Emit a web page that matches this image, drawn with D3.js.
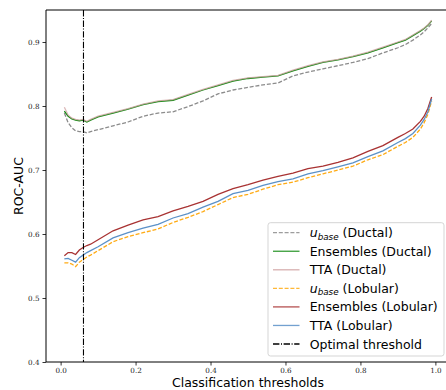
<!DOCTYPE html>
<html>
<head>
<meta charset="utf-8">
<script src="https://cdn.jsdelivr.net/npm/d3@7"></script>
<style>
html,body{margin:0;padding:0;background:#fff;}
svg{display:block;}
</style>
</head>
<body>
<svg id="chart" width="446" height="390"></svg>
<script>
const thresholds = [0.01,0.02,0.03,0.04,0.05,0.06,0.07,0.08,0.10,0.14,0.18,0.22,0.26,0.30,0.34,0.38,0.42,0.46,0.50,0.54,0.58,0.62,0.66,0.70,0.74,0.78,0.82,0.86,0.90,0.92,0.94,0.96,0.97,0.98,0.99];

const ubaseDuctal = [0.789,0.774,0.766,0.761,0.760,0.760,0.758,0.760,0.763,0.769,0.775,0.784,0.789,0.791,0.799,0.808,0.819,0.825,0.829,0.833,0.836,0.847,0.853,0.858,0.863,0.868,0.874,0.883,0.891,0.896,0.903,0.911,0.916,0.922,0.929];
const ensDuctal = [0.792,0.784,0.780,0.778,0.777,0.778,0.775,0.778,0.783,0.789,0.795,0.802,0.807,0.809,0.817,0.825,0.832,0.839,0.843,0.845,0.847,0.855,0.862,0.868,0.872,0.877,0.883,0.891,0.899,0.903,0.910,0.917,0.921,0.926,0.933];
const ttaDuctal = [0.798,0.786,0.781,0.779,0.778,0.779,0.776,0.779,0.784,0.790,0.796,0.803,0.808,0.810,0.818,0.826,0.833,0.840,0.844,0.846,0.848,0.856,0.863,0.869,0.873,0.878,0.884,0.892,0.900,0.904,0.911,0.918,0.922,0.927,0.934];
const ubaseLobular = [0.555,0.555,0.553,0.549,0.556,0.560,0.564,0.567,0.574,0.588,0.596,0.602,0.608,0.618,0.626,0.635,0.646,0.657,0.662,0.670,0.677,0.681,0.688,0.694,0.700,0.706,0.716,0.724,0.737,0.743,0.751,0.764,0.774,0.787,0.808];
const ensLobular = [0.566,0.571,0.571,0.568,0.575,0.579,0.582,0.584,0.591,0.605,0.614,0.622,0.627,0.636,0.643,0.651,0.662,0.671,0.677,0.684,0.690,0.695,0.702,0.706,0.712,0.719,0.729,0.738,0.751,0.757,0.764,0.776,0.784,0.796,0.814];
const ttaLobular = [0.561,0.562,0.559,0.556,0.563,0.567,0.571,0.574,0.580,0.594,0.602,0.609,0.615,0.625,0.632,0.642,0.651,0.663,0.668,0.676,0.682,0.686,0.694,0.699,0.705,0.711,0.721,0.730,0.743,0.749,0.757,0.770,0.779,0.791,0.811];

const optimalThreshold = 0.061;
const xTicks = [0.0,0.2,0.4,0.6,0.8,1.0];
const yTicks = [0.4,0.5,0.6,0.7,0.8,0.9];
const xTickLabels = ["0.0","0.2","0.4","0.6","0.8","1.0"];
const yTickLabels = ["0.4","0.5","0.6","0.7","0.8","0.9"];

const seriesLabels = [["u","base"," (Ductal)"],["Ensembles (Ductal)"],["TTA (Ductal)"],["u","base"," (Lobular)"],["Ensembles (Lobular)"],["TTA (Lobular)"]];
const seriesValues = [ubaseDuctal,ensDuctal,ttaDuctal,ubaseLobular,ensLobular,ttaLobular];
const seriesColors = ["#8c8c8c","#138a13","#cfa0a0","#ffab14","#a83232","#5b91c8"];
const seriesDash = ["4,1.8",null,null,"4,1.8",null,null];
const seriesOpacity = [1,1,0.75,1,1,1];

const svg = d3.select("#chart");
const L = 46, T = 10, R = 450, B = 362;
const x = d3.scaleLinear().domain([-0.039, 1.039]).range([L, R]);
const y = d3.scaleLinear().domain([0.4, 0.95]).range([B, T]);

const plot = svg.append("g");
svg.append("clipPath").attr("id","clip").append("rect")
  .attr("x",L).attr("y",T).attr("width",R-L).attr("height",B-T);

const line = d3.line().x(d => x(d[0])).y(d => y(d[1]));
seriesValues.forEach((vals,i) => {
  plot.append("path")
    .datum(thresholds.map((t,j) => [t, vals[j]]))
    .attr("d", line)
    .attr("fill","none")
    .attr("stroke", seriesColors[i])
    .attr("stroke-width", 1.3)
    .attr("stroke-opacity", seriesOpacity[i])
    .attr("stroke-dasharray", seriesDash[i])
    .attr("clip-path","url(#clip)");
});

plot.append("line")
  .attr("x1", x(optimalThreshold)).attr("x2", x(optimalThreshold))
  .attr("y1", T).attr("y2", B)
  .attr("stroke","#000").attr("stroke-width",1.1)
  .attr("stroke-dasharray","6.4,1.6,1,1.6");

const xAxis = d3.axisBottom(x).tickValues(xTicks).tickSize(3.5).tickPadding(2.5)
  .tickFormat((d,i) => xTickLabels[i]);
const yAxis = d3.axisLeft(y).tickValues(yTicks).tickSize(3.5).tickPadding(3)
  .tickFormat((d,i) => yTickLabels[i]);

const gx = svg.append("g").attr("transform",`translate(0,${B})`).call(xAxis);
const gy = svg.append("g").attr("transform",`translate(${L},0)`).call(yAxis);
[gx,gy].forEach(g => {
  g.select(".domain").remove();
  g.selectAll(".tick line").attr("stroke","#000").attr("stroke-width",0.8);
  g.selectAll(".tick text").attr("fill","#222")
    .style("font-family","'DejaVu Serif', serif").style("font-size","7.2px");
});

svg.append("line").attr("x1",L).attr("x2",L).attr("y1",T).attr("y2",B).attr("stroke","#000").attr("stroke-width",1);
svg.append("line").attr("x1",L).attr("x2",R).attr("y1",B).attr("y2",B).attr("stroke","#000").attr("stroke-width",1);
svg.append("line").attr("x1",L).attr("x2",R).attr("y1",T).attr("y2",T).attr("stroke","#000").attr("stroke-width",1);
svg.append("line").attr("x1",R).attr("x2",R).attr("y1",T).attr("y2",B).attr("stroke","#000").attr("stroke-width",1);

const sans = "'DejaVu Sans', sans-serif";
svg.append("text").attr("x",(L+R)/2).attr("y",386.5).attr("text-anchor","middle")
  .style("font-family",sans).style("font-size","12.5px").text("Classification thresholds");
svg.append("text").attr("transform",`translate(23,${(T+B)/2}) rotate(-90)`).attr("text-anchor","middle")
  .style("font-family",sans).style("font-size","12.5px").text("ROC-AUC");

const lg = svg.append("g");
const lx0 = 268, ly0 = 222.7, lx1 = 444, ly1 = 356;
lg.append("rect").attr("x",lx0).attr("y",ly0).attr("width",lx1-lx0).attr("height",ly1-ly0)
  .attr("rx",2.5).attr("fill","#fff").attr("fill-opacity",0.8).attr("stroke","#d0d0d0").attr("stroke-width",0.9);

const rowY = i => 232.7 + i*18.55;
const legendEntries = seriesLabels.map((lab,i) => ({lab, color: seriesColors[i], dash: seriesDash[i]}));
legendEntries.push({lab:["Optimal threshold"], color:"#000", dash:"6.4,1.6,1,1.6", opt:true});

legendEntries.forEach((e,i) => {
  const yy = rowY(i);
  lg.append("line").attr("x1",273).attr("x2",299.5).attr("y1",yy).attr("y2",yy)
    .attr("stroke",e.color).attr("stroke-width",1.3).attr("stroke-dasharray",e.dash)
    .attr("stroke-opacity", e.opt ? 1 : 0.85);
  const t = lg.append("text").attr("x",309.7).attr("y",yy+4.5)
    .style("font-family",sans).style("font-size","12.5px").attr("fill","#000");
  if (e.lab.length === 3) {
    t.append("tspan").style("font-style","italic").text(e.lab[0]);
    t.append("tspan").style("font-style","italic").style("font-size","8.8px").attr("dy",2.5).text(e.lab[1]);
    t.append("tspan").attr("dy",-2.5).text(e.lab[2]);
  } else {
    t.text(e.lab[0]);
  }
});
</script>
</body>
</html>
